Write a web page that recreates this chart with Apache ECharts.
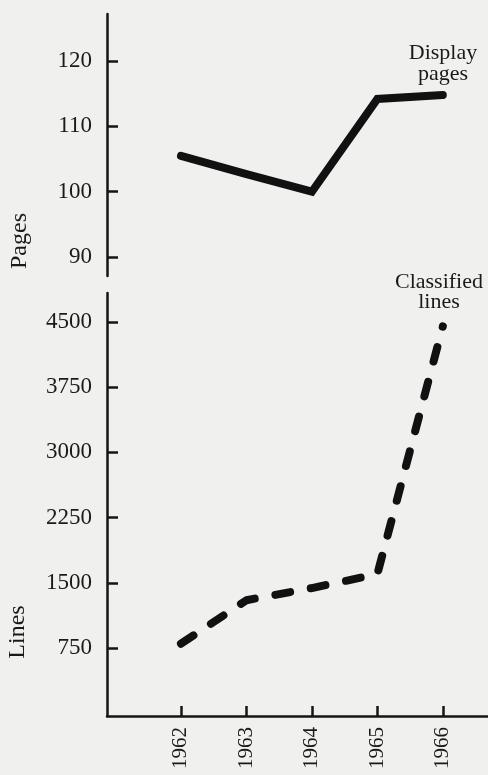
<!DOCTYPE html>
<html>
<head>
<meta charset="utf-8">
<script src="https://cdn.jsdelivr.net/npm/echarts@6/dist/echarts.min.js"></script>
<style>
html,body{margin:0;padding:0;background:#f0f0ee;}
#c{width:488px;height:775px;}
</style>
</head>
<body>
<div id="c"></div>
<script>
const years = [1962, 1963, 1964, 1965, 1966];
const displayPages = [105.5, 102.7, 100, 114.2, 114.8];
const classifiedLines = [800, 1300, 1440, 1600, 4450];
const pagesTicks = [90, 100, 110, 120];
const linesTicks = [750, 1500, 2250, 3000, 3750, 4500];

const FONT = 'Liberation Serif';
const INK = '#151515';
const TXT = '#1a1a1a';
const chart = echarts.init(document.getElementById('c'));

function yAx(grid, min, max, ticks) {
  return {
    type: 'value', gridIndex: grid, min: min, max: max,
    axisLine: { show: true, onZero: false, lineStyle: { color: INK, width: 2.5 } },
    axisTick: { show: true, inside: true, length: 11, customValues: ticks, lineStyle: { color: INK, width: 2.5 } },
    axisLabel: { customValues: ticks, fontFamily: FONT, fontSize: 23, color: TXT, margin: 15, formatter: v => String(v) },
    splitLine: { show: false }
  };
}

chart.setOption({
  backgroundColor: '#f0f0ee',
  animation: false,
  grid: [
    { left: 107, right: 0, top: 14, height: 262 },
    { left: 107, right: 0, top: 293, height: 423 }
  ],
  xAxis: [
    { type: 'value', gridIndex: 0, min: 1960.87, max: 1966.69, show: false },
    {
      type: 'value', gridIndex: 1, min: 1960.87, max: 1966.69,
      axisLine: { show: true, onZero: false, lineStyle: { color: INK, width: 2.5 } },
      axisTick: { show: true, inside: true, length: 10, customValues: years, lineStyle: { color: INK, width: 2.5 } },
      axisLabel: { customValues: years, rotate: 90, fontFamily: FONT, fontSize: 21, color: TXT, margin: 11, formatter: v => String(v) },
      splitLine: { show: false }
    }
  ],
  yAxis: [
    yAx(0, 87.1, 127.2, pagesTicks),
    yAx(1, -32, 4834, linesTicks)
  ],
  series: [
    {
      type: 'line', xAxisIndex: 0, yAxisIndex: 0,
      data: years.map((y, i) => [y, displayPages[i]]),
      symbol: 'none',
      lineStyle: { color: '#111', width: 8, cap: 'round', join: 'miter' }
    },
    {
      type: 'line', xAxisIndex: 1, yAxisIndex: 1,
      data: years.map((y, i) => [y, classifiedLines[i]]),
      symbol: 'none',
      lineStyle: { color: '#111', width: 8, cap: 'round', join: 'round', type: [15, 21] }
    }
  ],
  graphic: [
    { type: 'text', x: 20, y: 241, rotation: Math.PI / 2,
      style: { text: 'Pages', font: '24px "Liberation Serif"', fill: TXT, textAlign: 'center', textVerticalAlign: 'middle' } },
    { type: 'text', x: 18, y: 632, rotation: Math.PI / 2,
      style: { text: 'Lines', font: '24px "Liberation Serif"', fill: TXT, textAlign: 'center', textVerticalAlign: 'middle' } },
    { type: 'text', x: 443, y: 43,
      style: { text: 'Display\npages', font: '22px "Liberation Serif"', lineHeight: 21, fill: TXT, textAlign: 'center', textVerticalAlign: 'top' } },
    { type: 'text', x: 439, y: 272,
      style: { text: 'Classified\nlines', font: '22px "Liberation Serif"', lineHeight: 20, fill: TXT, textAlign: 'center', textVerticalAlign: 'top' } }
  ]
});
</script>
</body>
</html>
